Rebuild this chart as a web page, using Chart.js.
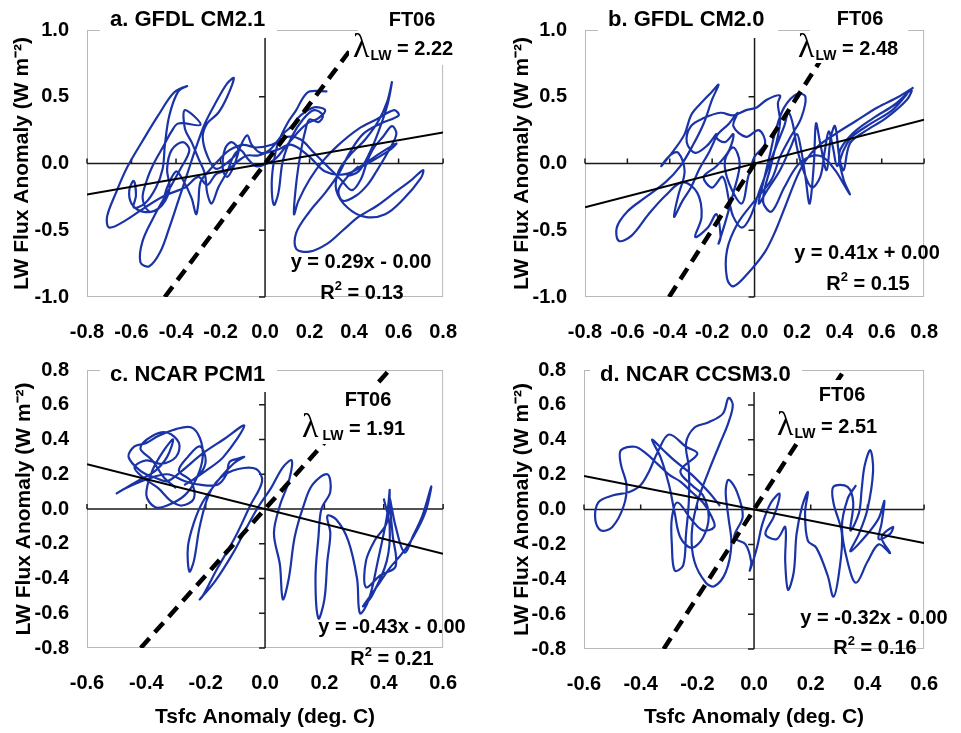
<!DOCTYPE html>
<html>
<head>
<meta charset="utf-8">
<script src="https://cdn.jsdelivr.net/npm/chart.js@4.4.1/dist/chart.umd.min.js"></script>
<style>
  html, body { margin: 0; padding: 0; background: #fff; }
  body { width: 961px; height: 733px; position: relative; overflow: hidden; }
  canvas { position: absolute; }
</style>
</head>
<body>
<canvas id="pa" width="480" height="340" style="left:0;top:0"></canvas>
<canvas id="pb" width="481" height="340" style="left:480px;top:0"></canvas>
<canvas id="pc" width="480" height="393" style="left:0;top:340px"></canvas>
<canvas id="pd" width="481" height="393" style="left:480px;top:340px"></canvas>
<script>
// panel names, regression fits and FT06 feedback values
const panelNames    = ['a. GFDL CM2.1', 'b. GFDL CM2.0', 'c. NCAR PCM1', 'd. NCAR CCSM3.0'];
const fitSlopes     = [0.29, 0.41, -0.43, -0.32];
const fitIntercepts = ['- 0.00', '+ 0.00', '- 0.00', '- 0.00'];
const rSquared      = ['0.13', '0.15', '0.21', '0.16'];
const lambdaLW      = [2.22, 2.48, 1.91, 2.51];

// tick labels
const xTicksGFDL = [-0.8, -0.6, -0.4, -0.2, 0.0, 0.2, 0.4, 0.6, 0.8];
const yTicksGFDL = [-1.0, -0.5, 0.0, 0.5, 1.0];
const xTicksNCAR = [-0.6, -0.4, -0.2, 0.0, 0.2, 0.4, 0.6];
const yTicksNCAR = [-0.8, -0.6, -0.4, -0.2, 0.0, 0.2, 0.4, 0.6, 0.8];

// [Tsfc anomaly, LW flux anomaly] trajectories
const pathCM21 = [
  [0.28,0.54],[0.20,0.54],[0.17,0.49],[0.14,0.40],[0.10,0.30],[0.06,0.16],[0.04,0.02],[0.03,-0.15],
  [0.04,-0.31],[0.06,-0.22],[0.08,0.02],[0.12,0.20],[0.17,0.33],[0.22,0.40],[0.26,0.36],[0.24,0.31],
  [0.20,0.33],[0.18,0.24],[0.16,0.08],[0.14,-0.15],[0.13,-0.38],[0.15,-0.28],[0.20,-0.12],[0.26,0.02],
  [0.33,0.14],[0.42,0.26],[0.50,0.33],[0.58,0.40],[0.60,0.36],[0.52,0.30],[0.44,0.22],[0.38,0.08],
  [0.33,-0.08],[0.27,-0.22],[0.20,-0.36],[0.14,-0.52],[0.14,-0.64],[0.20,-0.66],[0.28,-0.60],[0.35,-0.50],
  [0.42,-0.40],[0.50,-0.32],[0.58,-0.22],[0.66,-0.12],[0.71,-0.05],[0.70,-0.11],[0.62,-0.27],[0.54,-0.38],
  [0.45,-0.40],[0.37,-0.33],[0.32,-0.20],[0.33,-0.06],[0.38,0.06],[0.45,0.18],[0.51,0.32],[0.55,0.47],
  [0.57,0.61],[0.55,0.44],[0.51,0.24],[0.47,0.08],[0.42,-0.06],[0.37,-0.09],[0.44,-0.01],[0.52,0.08],
  [0.59,0.15],[0.56,0.10],[0.46,0.00],[0.36,-0.08],[0.27,-0.06],[0.20,0.05],[0.12,0.14],[0.05,0.10],
  [-0.02,0.08],[-0.06,0.14],[-0.08,0.21],[-0.11,0.13],[-0.14,-0.02],[-0.17,-0.10],[-0.19,-0.04],[-0.18,0.11],
  [-0.15,0.16],[-0.12,0.10],[-0.16,0.02],[-0.22,-0.04],[-0.26,0.06],[-0.28,0.20],[-0.26,0.30],[-0.21,0.38],
  [-0.17,0.50],[-0.14,0.64],[-0.17,0.60],[-0.22,0.46],[-0.27,0.30],[-0.31,0.12],[-0.35,-0.08],[-0.39,-0.28],
  [-0.43,-0.48],[-0.47,-0.66],[-0.52,-0.77],[-0.56,-0.74],[-0.55,-0.58],[-0.50,-0.40],[-0.44,-0.22],[-0.38,-0.04],
  [-0.34,0.10],[-0.37,0.16],[-0.42,0.10],[-0.44,-0.04],[-0.43,-0.20],[-0.48,-0.34],[-0.55,-0.36],[-0.60,-0.30],
  [-0.61,-0.20],[-0.59,-0.13],[-0.58,-0.24],[-0.59,-0.33],[-0.54,-0.30],[-0.49,-0.18],[-0.46,-0.04],[-0.45,0.14],
  [-0.43,0.36],[-0.39,0.54],[-0.35,0.58],[-0.41,0.53],[-0.48,0.36],[-0.55,0.17],[-0.62,-0.03],[-0.67,-0.22],
  [-0.71,-0.40],[-0.70,-0.48],[-0.63,-0.43],[-0.54,-0.33],[-0.45,-0.24],[-0.36,-0.18],[-0.30,-0.10],[-0.26,-0.16],
  [-0.22,-0.08],[-0.17,-0.05],[-0.12,0.02],[-0.08,0.06],[-0.03,0.06],[0.02,0.10],[0.08,0.22],[0.12,0.28],
  [0.16,0.36],[0.22,0.42],[0.27,0.40],[0.24,0.34],[0.19,0.30],[0.14,0.22],[0.09,0.12],[0.05,0.04],
  [0.01,0.00],[-0.04,-0.02],[-0.08,0.04],[-0.11,0.10],[-0.14,0.06],[-0.17,-0.06],[-0.21,-0.18],[-0.24,-0.30],
  [-0.26,-0.22],[-0.27,-0.08],[-0.30,0.04],[-0.33,0.16],[-0.36,0.26],[-0.36,0.40],[-0.29,0.29],[-0.39,0.30],
  [-0.42,0.24],[-0.46,0.12],[-0.50,0.00],[-0.53,-0.12],[-0.55,-0.26],[-0.52,-0.36],[-0.47,-0.32],[-0.44,-0.18],
  [-0.40,-0.06],[-0.37,-0.12],[-0.33,-0.26],[-0.31,-0.38],[-0.30,-0.30],[-0.29,-0.14],[-0.25,-0.05],[-0.20,0.04],
  [-0.16,0.10],[-0.10,0.14],[-0.04,0.12],[0.03,0.14],[0.10,0.20],[0.16,0.18],[0.22,0.08],[0.28,-0.02],
  [0.34,-0.12],[0.39,-0.20],[0.43,-0.12],[0.46,0.02],[0.49,0.12],[0.53,0.20],[0.57,0.28],[0.59,0.22],
  [0.55,0.08],[0.50,-0.06],[0.46,-0.16],[0.41,-0.24],[0.35,-0.28],[0.33,-0.20],[0.37,-0.10],[0.42,-0.02]
];

const pathCM20 = [
  [0.75,0.57],[0.68,0.50],[0.58,0.42],[0.48,0.32],[0.38,0.22],[0.30,0.13],[0.24,0.02],[0.20,-0.10],
  [0.15,-0.30],[0.10,-0.50],[0.05,-0.66],[-0.03,-0.82],[-0.10,-0.92],[-0.13,-0.86],[-0.13,-0.65],[-0.08,-0.45],
  [0.00,-0.28],[0.08,-0.12],[0.12,0.05],[0.17,0.20],[0.22,0.34],[0.24,0.50],[0.20,0.52],[0.14,0.42],
  [0.10,0.25],[0.07,0.05],[0.04,-0.15],[0.02,-0.30],[0.06,-0.20],[0.12,-0.05],[0.17,0.12],[0.20,0.22],
  [0.22,0.10],[0.24,-0.10],[0.26,-0.30],[0.28,0.00],[0.29,0.30],[0.31,0.15],[0.34,-0.05],[0.36,0.20],
  [0.38,0.28],[0.40,0.05],[0.42,-0.05],[0.45,0.15],[0.52,0.24],[0.62,0.34],[0.72,0.48],[0.74,0.55],
  [0.66,0.44],[0.56,0.34],[0.46,0.22],[0.40,0.08],[0.42,-0.12],[0.45,-0.23],[0.43,-0.18],[0.38,-0.05],
  [0.32,0.05],[0.26,0.05],[0.20,-0.02],[0.14,-0.18],[0.08,-0.36],[0.04,-0.28],[0.08,0.00],[0.12,0.30],
  [0.11,0.45],[0.12,0.51],[0.06,0.48],[0.01,0.42],[-0.04,0.40],[-0.10,0.36],[-0.16,0.38],[-0.24,0.34],
  [-0.30,0.28],[-0.32,0.16],[-0.28,0.08],[-0.22,0.14],[-0.18,0.22],[-0.21,0.10],[-0.26,-0.04],[-0.30,-0.18],
  [-0.34,-0.28],[-0.38,-0.40],[-0.36,-0.24],[-0.33,-0.06],[-0.36,0.08],[-0.40,0.06],[-0.44,-0.02],[-0.38,0.10],
  [-0.33,0.22],[-0.30,0.36],[-0.26,0.44],[-0.20,0.54],[-0.17,0.59],[-0.20,0.48],[-0.24,0.30],[-0.29,0.14],
  [-0.35,-0.02],[-0.42,-0.14],[-0.52,-0.26],[-0.60,-0.36],[-0.65,-0.48],[-0.64,-0.58],[-0.58,-0.54],[-0.50,-0.38],
  [-0.42,-0.24],[-0.34,-0.14],[-0.27,-0.22],[-0.25,-0.40],[-0.28,-0.55],[-0.22,-0.48],[-0.18,-0.38],[-0.16,-0.55],
  [-0.17,-0.60],[-0.14,-0.45],[-0.10,-0.22],[-0.07,0.00],[-0.10,0.12],[-0.14,0.02],[-0.12,-0.15],[-0.06,-0.30],
  [-0.03,-0.10],[0.00,0.05],[0.05,0.15],[0.02,0.25],[-0.04,0.20],[-0.10,0.28],[-0.08,0.38],[-0.12,0.30],
  [-0.18,0.20],[-0.14,0.16],[-0.10,0.22],[-0.12,0.10],[-0.18,-0.02],[-0.24,-0.10],[-0.20,-0.18],[-0.15,-0.10],
  [-0.12,-0.28],[-0.10,-0.40],[-0.06,-0.48],[-0.02,-0.40],[0.02,-0.22],[0.06,-0.05],[0.10,0.12],[0.14,0.28],
  [0.16,0.38],[0.18,0.30],[0.20,0.12],[0.23,-0.05],[0.27,-0.18],[0.31,-0.10],[0.33,0.08],[0.35,0.24],
  [0.37,0.12],[0.39,-0.02],[0.42,0.10],[0.46,0.20],[0.55,0.30],[0.65,0.40],[0.72,0.52]
];

const pathPCM1 = [
  [-0.30,0.12],[-0.34,0.18],[-0.38,0.28],[-0.42,0.35],[-0.38,0.42],[-0.33,0.44],[-0.29,0.38],[-0.30,0.30],
  [-0.35,0.26],[-0.40,0.28],[-0.44,0.24],[-0.41,0.18],[-0.36,0.12],[-0.32,0.05],[-0.28,0.02],[-0.24,0.06],
  [-0.25,0.16],[-0.29,0.22],[-0.26,0.30],[-0.22,0.36],[-0.20,0.28],[-0.22,0.20],[-0.27,0.14],[-0.20,0.22],
  [-0.14,0.30],[-0.07,0.48],[-0.14,0.40],[-0.21,0.32],[-0.28,0.22],[-0.33,0.16],[-0.37,0.18],[-0.42,0.22],
  [-0.46,0.30],[-0.44,0.36],[-0.40,0.38],[-0.36,0.42],[-0.30,0.46],[-0.25,0.47],[-0.22,0.41],[-0.21,0.30],
  [-0.23,0.18],[-0.27,0.08],[-0.33,0.02],[-0.37,0.01],[-0.40,0.08],[-0.38,0.22],[-0.34,0.34],[-0.31,0.40],
  [-0.33,0.30],[-0.37,0.22],[-0.43,0.16],[-0.48,0.11],[-0.50,0.09],[-0.47,0.12],[-0.40,0.17],[-0.33,0.20],
  [-0.27,0.16],[-0.22,0.14],[-0.16,0.14],[-0.13,0.20],[-0.12,0.27],[-0.09,0.29],[-0.07,0.30],[-0.10,0.27],
  [-0.13,0.22],[-0.16,0.16],[-0.21,0.04],[-0.24,-0.08],[-0.26,-0.22],[-0.255,-0.36],[-0.24,-0.30],[-0.22,-0.10],
  [-0.19,0.08],[-0.15,0.18],[-0.09,0.23],[-0.03,0.23],[-0.01,0.16],[-0.05,0.02],[-0.10,-0.16],[-0.16,-0.34],
  [-0.21,-0.50],[-0.22,-0.52],[-0.17,-0.42],[-0.11,-0.26],[-0.06,-0.10],[-0.02,0.02],[0.02,0.12],[0.06,0.24],
  [0.09,0.28],[0.08,0.16],[0.05,0.02],[0.03,-0.14],[0.05,-0.32],[0.06,-0.52],[0.08,-0.40],[0.10,-0.16],
  [0.13,0.02],[0.16,0.14],[0.21,0.20],[0.22,0.10],[0.19,0.00],[0.18,-0.16],[0.17,-0.40],[0.18,-0.63],
  [0.20,-0.52],[0.21,-0.30],[0.22,-0.14],[0.21,-0.04],[0.24,-0.06],[0.28,-0.18],[0.31,-0.40],[0.32,-0.60],
  [0.35,-0.52],[0.38,-0.30],[0.41,-0.05],[0.42,0.11],[0.41,-0.08],[0.37,-0.18],[0.34,-0.30],[0.34,-0.45],
  [0.39,-0.38],[0.44,-0.33],[0.43,-0.15],[0.42,0.06],[0.44,-0.10],[0.47,-0.25],[0.50,-0.15],[0.53,-0.04],
  [0.56,0.13],[0.54,-0.02],[0.50,-0.16],[0.46,-0.26],[0.42,-0.34],[0.38,-0.44],[0.33,-0.56],[0.36,-0.50],
  [0.41,-0.30],[0.42,-0.10],[0.40,0.06]
];

const pathCCSM3 = [
  [-0.12,0.02],[-0.16,0.10],[-0.22,0.20],[-0.28,0.28],[-0.32,0.34],[-0.36,0.40],[-0.33,0.30],[-0.30,0.14],
  [-0.28,-0.02],[-0.26,-0.16],[-0.22,-0.22],[-0.18,-0.16],[-0.16,-0.04],[-0.18,0.08],[-0.22,0.14],[-0.26,0.22],
  [-0.20,0.32],[-0.24,0.36],[-0.30,0.43],[-0.34,0.33],[-0.37,0.22],[-0.40,0.14],[-0.44,0.10],[-0.50,0.08],
  [-0.55,0.04],[-0.56,-0.06],[-0.54,-0.12],[-0.50,-0.10],[-0.46,0.02],[-0.45,0.14],[-0.47,0.26],[-0.47,0.34],
  [-0.42,0.36],[-0.38,0.32],[-0.34,0.26],[-0.30,0.20],[-0.26,0.16],[-0.22,0.10],[-0.18,0.04],[-0.15,-0.04],
  [-0.14,-0.10],[-0.18,-0.12],[-0.22,-0.06],[-0.27,0.04],[-0.29,-0.05],[-0.29,-0.20],[-0.28,-0.35],[-0.25,-0.32],
  [-0.24,-0.14],[-0.23,0.05],[-0.23,0.24],[-0.24,0.38],[-0.21,0.47],[-0.16,0.50],[-0.11,0.55],[-0.09,0.64],
  [-0.075,0.60],[-0.09,0.50],[-0.12,0.38],[-0.16,0.22],[-0.20,0.04],[-0.22,-0.14],[-0.21,-0.30],[-0.17,-0.42],
  [-0.14,-0.44],[-0.10,-0.36],[-0.08,-0.20],[-0.09,-0.05],[-0.10,0.10],[-0.09,0.17],[-0.06,0.10],[-0.04,-0.04],
  [-0.07,-0.16],[-0.03,-0.20],[-0.01,-0.30],[-0.015,-0.35],[0.01,-0.22],[0.03,-0.08],[0.06,0.04],[0.09,0.09],
  [0.07,-0.04],[0.04,-0.14],[0.08,-0.17],[0.11,-0.10],[0.11,-0.30],[0.12,-0.46],[0.14,-0.36],[0.15,-0.14],
  [0.17,0.02],[0.19,0.10],[0.18,-0.02],[0.19,-0.18],[0.22,-0.22],[0.26,-0.38],[0.28,-0.50],[0.30,-0.36],
  [0.31,-0.14],[0.28,0.04],[0.28,0.13],[0.33,0.13],[0.35,0.04],[0.34,-0.12],[0.37,-0.02],[0.38,0.12],
  [0.39,0.25],[0.41,0.34],[0.42,0.22],[0.40,0.00],[0.37,-0.14],[0.34,-0.24],[0.40,-0.14],[0.44,-0.05],
  [0.46,0.05],[0.45,-0.08],[0.44,-0.17],[0.48,-0.14],[0.49,-0.10],[0.45,-0.16],[0.48,-0.25],[0.44,-0.20],
  [0.40,-0.30],[0.36,-0.42],[0.33,-0.30],[0.31,-0.10],[0.33,0.06],[0.36,0.14]
];

const SANS = '"Liberation Sans", Arial, sans-serif';
const BLUE = '#1a33a6';

Chart.defaults.font.family = SANS;
Chart.defaults.font.weight = 'bold';
Chart.defaults.font.size = 20;
Chart.defaults.color = '#000';

// layout of each panel (canvas pixels)
const panels = [
  { id: 'pa', path: pathCM21, xTicks: xTicksGFDL, yTicks: yTicksGFDL, area: { l: 87, r: 446, t: 18, b: 297 },
    yTitlePad: 10, xTitle: false,
    titleAt: [110, 20], titleBox: [100, 0, 177, 38], ftAt: [412, 20], ftBox: [358, 0, 115, 31],
    lamAt: [353, 57], lamBox: [349, 31, 124, 34], eqAt: [361, 262], r2At: [362, 292] },
  { id: 'pb', path: pathCM20, xTicks: xTicksGFDL, yTicks: yTicksGFDL, area: { l: 105, r: 464, t: 18, b: 297 },
    yTitlePad: 30, xTitle: false,
    titleAt: [128, 20], titleBox: [118, 0, 180, 38], ftAt: [380, 19], ftBox: [330, 0, 98, 31],
    lamAt: [318, 57], lamBox: [314, 31, 114, 32], eqAt: [387, 253], r2At: [388, 283] },
  { id: 'pc', path: pathPCM1, xTicks: xTicksNCAR, yTicks: yTicksNCAR, area: { l: 87, r: 446, t: 29, b: 308 },
    yTitlePad: 12, xTitle: true,
    titleAt: [110, 35], titleBox: [100, 8, 177, 44], ftAt: [368, 60], ftBox: [328, 44, 84, 26],
    lamAt: [302, 97], lamBox: [296, 70, 118, 34], eqAt: [392, 287], r2At: [392, 318] },
  { id: 'pd', path: pathCCSM3, xTicks: xTicksNCAR, yTicks: yTicksNCAR, area: { l: 104, r: 464, t: 30, b: 309 },
    yTitlePad: 30, xTitle: true,
    titleAt: [120, 35], titleBox: [110, 8, 212, 44], ftAt: [362, 55], ftBox: [325, 40, 80, 28],
    lamAt: [297, 95], lamBox: [292, 68, 116, 34], eqAt: [394, 278], r2At: [395, 307] }
];

function decor(p, k) {
  return {
    id: 'decor',
    beforeDatasetsDraw(chart) {
      const { ctx, chartArea: a } = chart;
      const x = chart.scales.x, y = chart.scales.y;
      ctx.save();
      // light plot frame
      ctx.strokeStyle = '#b8b8b8';
      ctx.lineWidth = 1;
      ctx.strokeRect(a.left + 0.5, a.top + 0.5, a.right - a.left - 1, a.bottom - a.top - 1);
      // axes crossing at zero
      const x0 = x.getPixelForValue(0), y0 = y.getPixelForValue(0);
      ctx.strokeStyle = '#1a1a1a';
      ctx.lineWidth = 1.5;
      ctx.beginPath();
      ctx.moveTo(a.left, y0); ctx.lineTo(a.right, y0);
      ctx.moveTo(x0, a.top); ctx.lineTo(x0, a.bottom);
      p.xTicks.forEach(v => {
        const px = x.getPixelForValue(v);
        ctx.moveTo(px, y0); ctx.lineTo(px, y0 - 5);
      });
      p.yTicks.forEach(v => {
        const py = y.getPixelForValue(v);
        ctx.moveTo(x0, py); ctx.lineTo(x0 - 6, py);
      });
      ctx.stroke();
      ctx.restore();
    },
    afterDatasetsDraw(chart) {
      const ctx = chart.ctx;
      ctx.save();
      ctx.fillStyle = '#fff';
      [p.titleBox, p.ftBox, p.lamBox].forEach(b => ctx.fillRect(b[0], b[1], b[2], b[3]));

      ctx.fillStyle = '#000';
      ctx.textBaseline = 'middle';
      ctx.textAlign = 'left';
      ctx.font = 'bold 22px ' + SANS;
      ctx.fillText(panelNames[k], p.titleAt[0], p.titleAt[1]);

      ctx.textAlign = 'center';
      ctx.font = 'bold 20px ' + SANS;
      ctx.fillText('FT06', p.ftAt[0], p.ftAt[1]);
      ctx.fillText('y = ' + fitSlopes[k].toFixed(2) + 'x ' + fitIntercepts[k], p.eqAt[0], p.eqAt[1]);

      // lambda_LW label
      ctx.textAlign = 'left';
      ctx.textBaseline = 'alphabetic';
      let lx = p.lamAt[0];
      const ly = p.lamAt[1];
      ctx.font = '34px "Liberation Serif", serif';
      ctx.fillText('λ', lx, ly);
      lx += ctx.measureText('λ').width + (k === 2 ? 4 : 1);
      ctx.font = 'bold 14px ' + SANS;
      ctx.fillText('LW', lx, ly + 3);
      lx += ctx.measureText('LW').width;
      ctx.font = 'bold 20px ' + SANS;
      ctx.fillText(' = ' + lambdaLW[k].toFixed(2), lx, ly - 2);

      // R^2 label
      const r2Tail = ' = ' + rSquared[k];
      ctx.font = 'bold 20px ' + SANS;
      const wR = ctx.measureText('R').width, wT = ctx.measureText(r2Tail).width;
      ctx.font = 'bold 13px ' + SANS;
      const w2 = ctx.measureText('2').width;
      let rx = p.r2At[0] - (wR + w2 + wT) / 2;
      const ry = p.r2At[1] + 7;
      ctx.font = 'bold 20px ' + SANS;
      ctx.fillText('R', rx, ry);
      rx += wR;
      ctx.font = 'bold 13px ' + SANS;
      ctx.fillText('2', rx, ry - 9);
      rx += w2;
      ctx.font = 'bold 20px ' + SANS;
      ctx.fillText(r2Tail, rx, ry);
      ctx.restore();
    }
  };
}

function buildChart(p, k) {
  const canvas = document.getElementById(p.id);
  const xmin = p.xTicks[0], xmax = p.xTicks[p.xTicks.length - 1];
  const ymin = p.yTicks[0], ymax = p.yTicks[p.yTicks.length - 1];
  const slope = fitSlopes[k], lam = lambdaLW[k];
  const fmt = v => v.toFixed(1);

  return new Chart(canvas, {
    type: 'scatter',
    data: {
      datasets: [
        {
          label: 'FT06',
          data: [{ x: ymin / lam, y: ymin }, { x: ymax / lam, y: ymax }],
          showLine: true, borderColor: '#000', borderWidth: 4.5, borderDash: [13, 8],
          borderCapStyle: 'butt', pointRadius: 0
        },
        {
          label: 'Linear fit',
          data: [{ x: xmin, y: slope * xmin }, { x: xmax, y: slope * xmax }],
          showLine: true, borderColor: '#000', borderWidth: 2, pointRadius: 0
        },
        {
          label: panelNames[k],
          data: p.path.map(([x, y]) => ({ x, y })),
          showLine: true, borderColor: BLUE, borderWidth: 2.2, pointRadius: 0, tension: 0.35
        }
      ]
    },
    options: {
      responsive: false,
      animation: false,
      devicePixelRatio: 1,
      layout: { padding: { left: 0, top: p.area.t, right: canvas.width - p.area.r, bottom: 0 } },
      plugins: { legend: { display: false }, tooltip: { enabled: false } },
      scales: {
        x: {
          type: 'linear', min: xmin, max: xmax,
          grid: { display: false, drawTicks: false },
          border: { display: false },
          afterBuildTicks: s => { s.ticks = p.xTicks.map(v => ({ value: v })); },
          afterFit: s => { s.height = canvas.height - p.area.b; },
          ticks: { padding: 23, maxRotation: 0, autoSkip: false, callback: fmt, font: { size: 20, weight: 'bold' } },
          title: {
            display: p.xTitle, text: 'Tsfc Anomaly (deg. C)',
            font: { size: 21, weight: 'bold' }, padding: { top: 0, bottom: 3 }
          }
        },
        y: {
          type: 'linear', min: ymin, max: ymax,
          grid: { display: false, drawTicks: false },
          border: { display: false },
          afterBuildTicks: s => { s.ticks = p.yTicks.map(v => ({ value: v })); },
          afterFit: s => { s.width = p.area.l; },
          ticks: { padding: 18, autoSkip: false, callback: fmt, font: { size: 20, weight: 'bold' } },
          title: {
            display: true, text: 'LW Flux Anomaly (W m⁻²)',
            font: { size: 21, weight: 'bold' }, padding: { top: p.yTitlePad, bottom: 0 }
          }
        }
      }
    },
    plugins: [decor(p, k)]
  });
}

panels.forEach((p, k) => buildChart(p, k));
</script>
</body>
</html>
